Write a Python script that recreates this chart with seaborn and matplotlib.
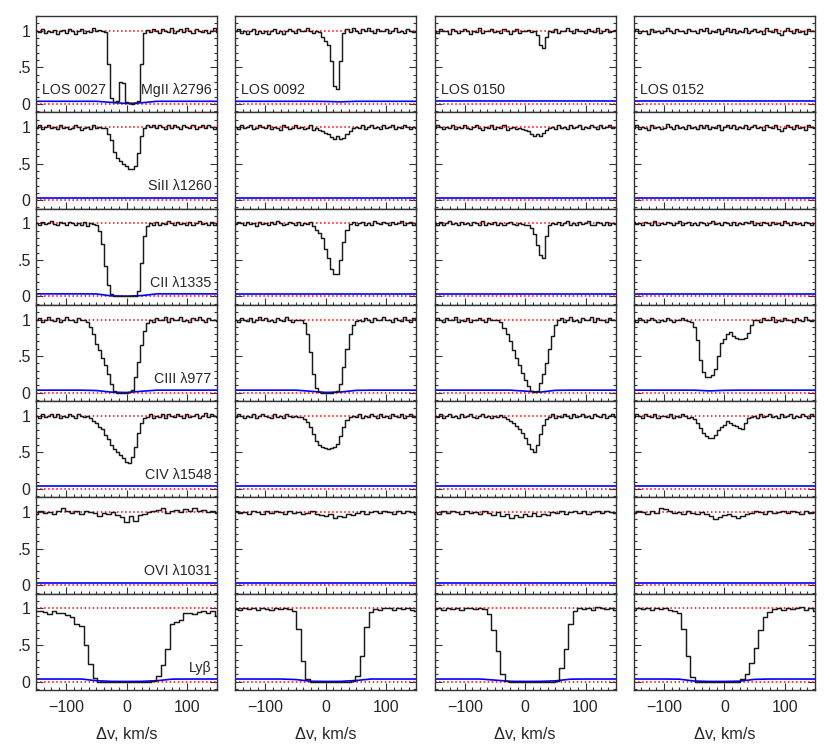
import numpy as np
import matplotlib
matplotlib.use("Agg")
import matplotlib.pyplot as plt
import seaborn as sns
from matplotlib.ticker import FixedLocator, MultipleLocator

# labels
los_labels = ["LOS 0027", "LOS 0092", "LOS 0150", "LOS 0152"]
ion_labels = ["MgII λ2796", "SiII λ1260", "CII λ1335", "CIII λ977",
              "CIV λ1548", "OVI λ1031", "Lyβ"]

# velocity grids, km/s
vel_fine = list(range(-150, 151, 5))                  # MgII .. CIV
vel_coarse = [-150 + 7.5 * k for k in range(41)]      # OVI, Ly-beta
vel_err = list(range(-150, 151, 25))                  # error curves

# normalised flux, in percent
mgii_0027 = [100, 98, 102, 97, 100, 98, 101, 96, 99, 101,
             97, 102, 99, 96, 100, 102, 97, 100, 98, 103,
             99, 101, 100, 98, 55, 8, 2, 4, 30, 28,
             3, 1, 0, 1, 4, 55, 97, 101, 98, 102,
             100, 97, 102, 100, 98, 103, 97, 100, 102, 98,
             103, 100, 97, 102, 100, 98, 101, 97, 100, 103,
             98]
mgii_0092 = [99, 102, 97, 100, 96, 99, 102, 95, 99, 97,
             100, 96, 99, 102, 97, 100, 95, 99, 102, 100,
             97, 102, 99, 100, 103, 99, 97, 100, 98, 92,
             86, 80, 58, 24, 20, 58, 97, 102, 98, 103,
             100, 97, 102, 99, 103, 100, 97, 102, 99, 100,
             102, 97, 100, 103, 98, 100, 97, 102, 100, 98,
             100]
mgii_0150 = [100, 97, 102, 99, 100, 96, 102, 99, 97, 100,
             102, 99, 96, 100, 98, 103, 97, 100, 99, 102,
             98, 100, 97, 102, 99, 96, 100, 102, 97, 100,
             99, 101, 98, 100, 94, 80, 76, 92, 100, 98,
             102, 97, 100, 99, 103, 100, 97, 102, 99, 100,
             97, 102, 100, 98, 103, 97, 100, 102, 98, 100,
             101]
mgii_0152 = [99, 102, 97, 100, 99, 96, 102, 98, 100, 97,
             99, 104, 100, 97, 102, 99, 100, 97, 102, 99,
             100, 97, 102, 99, 103, 97, 100, 98, 102, 96,
             100, 103, 98, 102, 97, 100, 98, 103, 97, 100,
             102, 98, 100, 96, 103, 100, 98, 102, 97, 94,
             99, 103, 100, 97, 102, 98, 100, 96, 102, 100,
             99]

sii_0027 = [99, 102, 97, 100, 103, 99, 100, 97, 102, 99,
            100, 97, 99, 102, 100, 96, 99, 100, 97, 102,
            99, 100, 99, 98, 90, 82, 66, 57, 54, 50,
            46, 43, 42, 46, 65, 88, 99, 102, 100, 103,
            98, 102, 100, 97, 102, 99, 103, 100, 97, 102,
            100, 98, 102, 97, 100, 103, 98, 102, 100, 97,
            100]
sii_0092 = [100, 97, 102, 99, 100, 103, 97, 99, 102, 100,
            98, 102, 97, 100, 99, 96, 102, 100, 97, 99,
            102, 99, 100, 97, 99, 102, 96, 99, 96, 95,
            92, 90, 86, 84, 88, 83, 85, 90, 95, 98,
            100, 98, 102, 97, 100, 103, 99, 100, 97, 102,
            99, 100, 103, 97, 100, 98, 102, 100, 97, 100,
            99]
sii_0150 = [99, 102, 100, 97, 100, 98, 103, 97, 100, 99,
            102, 99, 97, 100, 102, 98, 96, 100, 99, 102,
            97, 100, 99, 102, 96, 99, 100, 97, 99, 97,
            96, 94, 90, 88, 90, 87, 92, 96, 99, 100,
            97, 102, 99, 100, 97, 103, 99, 100, 102, 97,
            100, 98, 102, 100, 97, 102, 99, 100, 103, 98,
            100]
sii_0152 = [99, 102, 97, 100, 99, 96, 102, 98, 100, 97,
            99, 104, 100, 97, 102, 99, 100, 97, 102, 99,
            100, 97, 102, 99, 103, 97, 100, 98, 102, 96,
            100, 103, 98, 102, 97, 100, 98, 103, 97, 100,
            102, 98, 100, 96, 103, 100, 98, 102, 97, 94,
            99, 103, 100, 97, 102, 98, 100, 96, 102, 100,
            99]

cii_0027 = [100, 97, 102, 99, 100, 103, 99, 97, 102, 100,
            98, 102, 100, 97, 100, 98, 102, 96, 100, 99,
            97, 90, 72, 42, 16, 3, 1, 0, 0, 0,
            0, 0, 0, 1, 8, 45, 82, 96, 100, 98,
            102, 97, 100, 99, 103, 100, 97, 102, 99, 100,
            97, 102, 98, 100, 103, 99, 100, 97, 102, 98,
            100]
cii_0092 = [99, 102, 100, 97, 102, 99, 100, 96, 102, 99,
            100, 97, 102, 99, 103, 100, 97, 99, 102, 100,
            98, 102, 97, 100, 99, 102, 96, 91, 87, 80,
            65, 52, 38, 30, 30, 50, 75, 91, 99, 102,
            97, 100, 102, 98, 100, 97, 103, 100, 99, 102,
            100, 97, 102, 99, 100, 103, 97, 100, 102, 98,
            100]
cii_0150 = [100, 98, 102, 97, 100, 103, 99, 100, 97, 102,
            99, 100, 97, 102, 100, 98, 103, 97, 100, 99,
            102, 98, 100, 97, 100, 102, 99, 97, 100, 99,
            98, 97, 93, 85, 70, 56, 52, 82, 98, 100,
            99, 102, 97, 100, 103, 98, 100, 97, 102, 99,
            100, 103, 98, 97, 102, 100, 98, 102, 97, 100,
            99]
cii_0152 = [102, 99, 100, 97, 102, 100, 98, 103, 97, 100,
            99, 102, 100, 97, 100, 103, 98, 100, 102, 97,
            100, 98, 102, 100, 97, 100, 103, 99, 100, 97,
            102, 100, 98, 102, 97, 100, 99, 102, 100, 103,
            97, 100, 98, 102, 100, 97, 102, 99, 100, 98,
            103, 100, 97, 102, 99, 100, 97, 102, 100, 98,
            100]

ciii_0027 = [99, 102, 97, 100, 104, 100, 98, 102, 97, 100,
             103, 99, 100, 97, 102, 99, 100, 96, 90, 80,
             66, 58, 48, 38, 26, 12, 2, 0, 0, 0,
             0, 1, 4, 22, 42, 65, 84, 95, 100, 97,
             102, 99, 100, 103, 97, 102, 99, 100, 104, 98,
             100, 97, 102, 99, 103, 100, 97, 102, 99, 100,
             98]
ciii_0092 = [100, 97, 102, 100, 98, 102, 97, 100, 103, 99,
             102, 98, 100, 97, 102, 100, 98, 103, 100, 97,
             100, 99, 99, 95, 80, 55, 25, 6, 1, 0,
             0, 0, 0, 1, 3, 12, 35, 60, 80, 92,
             98, 100, 98, 102, 100, 97, 102, 99, 100, 103,
             99, 100, 97, 102, 100, 98, 103, 100, 97, 102,
             100]
ciii_0150 = [99, 102, 100, 97, 102, 99, 100, 103, 97, 100,
             98, 102, 97, 100, 99, 102, 100, 97, 102, 99,
             100, 99, 96, 89, 80, 70, 58, 48, 38, 27,
             18, 9, 2, 1, 3, 13, 26, 40, 60, 78,
             92, 99, 102, 97, 100, 103, 98, 100, 97, 102,
             99, 100, 103, 97, 102, 99, 100, 96, 102, 100,
             99]
ciii_0152 = [100, 97, 102, 99, 96, 100, 102, 99, 97, 100,
             98, 102, 100, 97, 100, 99, 102, 100, 98, 97,
             90, 72, 45, 28, 22, 22, 24, 33, 50, 68,
             73, 80, 83, 78, 75, 74, 74, 75, 82, 92,
             99, 100, 97, 102, 99, 100, 103, 97, 100, 98,
             102, 99, 100, 96, 102, 100, 98, 104, 100, 98,
             100]

civ_0027 = [100, 97, 102, 99, 100, 103, 98, 102, 97, 100,
            98, 102, 100, 97, 102, 100, 98, 100, 97, 93,
            90, 85, 82, 74, 68, 60, 55, 50, 46, 42,
            37, 36, 44, 58, 76, 90, 97, 99, 102, 97,
            100, 98, 102, 97, 103, 100, 98, 102, 100, 97,
            102, 99, 100, 103, 97, 100, 104, 98, 102, 100,
            99]
civ_0092 = [99, 102, 100, 97, 100, 98, 102, 97, 100, 103,
            100, 98, 97, 102, 99, 100, 97, 102, 100, 99,
            100, 99, 99, 96, 92, 85, 75, 66, 60, 58,
            56, 55, 56, 57, 62, 72, 85, 94, 98, 100,
            98, 102, 97, 100, 99, 103, 100, 97, 102, 99,
            100, 97, 102, 100, 98, 102, 97, 100, 103, 99,
            100]
civ_0150 = [100, 98, 102, 97, 100, 102, 99, 100, 97, 102,
            99, 100, 103, 98, 97, 100, 102, 99, 100, 97,
            100, 99, 101, 99, 96, 93, 90, 86, 82, 76,
            70, 62, 55, 50, 60, 75, 88, 96, 99, 102,
            97, 100, 99, 102, 100, 97, 102, 99, 100, 103,
            98, 100, 97, 102, 100, 98, 103, 97, 100, 102,
            99]
civ_0152 = [99, 102, 100, 97, 102, 100, 98, 102, 97, 100,
            100, 98, 102, 97, 100, 99, 102, 100, 97, 99,
            96, 90, 83, 76, 72, 70, 69, 74, 80, 85,
            88, 93, 90, 88, 86, 83, 82, 90, 97, 99,
            100, 97, 102, 99, 100, 103, 98, 100, 97, 102,
            99, 100, 102, 97, 100, 98, 103, 100, 97, 102,
            100]

ovi_0027 = [98, 101, 99, 100, 98, 101, 105, 102, 99, 101,
            97, 102, 100, 99, 94, 99, 97, 100, 96, 93,
            87, 95, 88, 96, 97, 100, 101, 103, 106, 99,
            101, 103, 100, 104, 102, 105, 101, 103, 100, 102,
            99]
ovi_0092 = [101, 99, 100, 97, 102, 100, 98, 101, 99, 102,
            100, 98, 101, 99, 100, 97, 99, 101, 98, 96,
            94, 97, 92, 95, 93, 97, 96, 99, 101, 98,
            100, 102, 99, 101, 100, 98, 102, 99, 101, 100,
            98]
ovi_0150 = [100, 98, 101, 99, 102, 100, 97, 101, 99, 100,
            98, 101, 99, 96, 100, 94, 97, 92, 96, 93,
            97, 95, 99, 94, 98, 96, 100, 99, 101, 98,
            100, 102, 99, 101, 98, 100, 101, 99, 102, 100,
            99]
ovi_0152 = [99, 101, 100, 98, 102, 99, 106, 104, 101, 99,
            100, 98, 101, 99, 97, 100, 98, 95, 91, 93,
            96, 98, 94, 92, 95, 97, 99, 101, 100, 98,
            101, 99, 100, 102, 99, 101, 100, 98, 101, 99,
            100]

lyb_0027 = [96, 97, 95, 92, 96, 93, 94, 91, 88, 79,
            76, 50, 24, 5, 0, 0, 0, 0, 0, 0,
            0, 0, 0, 0, 0, 0, 1, 7, 22, 45,
            78, 82, 84, 94, 94, 92, 95, 96, 93, 97,
            90]
lyb_0092 = [99, 98, 100, 99, 101, 98, 100, 99, 98, 100,
            99, 101, 99, 96, 72, 28, 4, 0, 0, 0,
            0, 0, 0, 0, 0, 0, 1, 8, 35, 75,
            95, 99, 98, 101, 100, 98, 101, 99, 100, 98,
            97]
lyb_0150 = [99, 100, 98, 101, 99, 100, 98, 101, 100, 99,
            100, 99, 92, 70, 42, 10, 1, 0, 0, 0,
            0, 0, 0, 0, 0, 0, 0, 1, 18, 45,
            78, 97, 100, 99, 101, 98, 102, 100, 99, 101,
            98]
lyb_0152 = [98, 100, 99, 101, 98, 100, 99, 100, 98, 96,
            93, 72, 35, 6, 0, 0, 0, 0, 0, 0,
            0, 0, 0, 0, 3, 10, 25, 46, 70, 88,
            95, 99, 100, 98, 101, 99, 100, 102, 98, 100,
            96]

# flux errors, in units of 0.001
err_flat = [35, 35, 35, 35, 35, 35, 35, 35, 35, 35, 35, 35, 35]
err_mgii_0027 = [35, 35, 35, 35, 35, 20, 5, 15, 35, 35, 35, 35, 35]
err_mgii_0092 = [35, 35, 35, 35, 35, 35, 33, 28, 35, 35, 35, 35, 35]
err_cii_0027 = [35, 35, 35, 35, 34, 8, 3, 12, 35, 35, 35, 35, 35]
err_ciii_0027 = [35, 35, 35, 35, 30, 8, 3, 20, 35, 35, 35, 35, 35]
err_ciii_0092 = [35, 35, 35, 35, 35, 20, 4, 10, 32, 35, 35, 35, 35]
err_ciii_0150 = [35, 35, 35, 35, 35, 35, 22, 8, 33, 35, 35, 35, 35]
err_ciii_0152 = [35, 35, 35, 35, 35, 25, 33, 35, 35, 35, 35, 35, 35]
err_lyb_0027 = [35, 35, 35, 35, 12, 3, 2, 3, 12, 33, 35, 35, 35]
err_lyb_0092 = [35, 35, 35, 35, 28, 5, 2, 3, 15, 35, 35, 35, 35]
err_lyb_0150 = [35, 35, 35, 35, 20, 4, 2, 3, 10, 33, 35, 35, 35]
err_lyb_0152 = [35, 35, 35, 33, 8, 2, 2, 6, 30, 35, 35, 35, 35]

flux_rows = [
    [mgii_0027, mgii_0092, mgii_0150, mgii_0152],
    [sii_0027, sii_0092, sii_0150, sii_0152],
    [cii_0027, cii_0092, cii_0150, cii_0152],
    [ciii_0027, ciii_0092, ciii_0150, ciii_0152],
    [civ_0027, civ_0092, civ_0150, civ_0152],
    [ovi_0027, ovi_0092, ovi_0150, ovi_0152],
    [lyb_0027, lyb_0092, lyb_0150, lyb_0152],
]
err_rows = [
    [err_mgii_0027, err_mgii_0092, err_flat, err_flat],
    [err_flat, err_flat, err_flat, err_flat],
    [err_cii_0027, err_flat, err_flat, err_flat],
    [err_ciii_0027, err_ciii_0092, err_ciii_0150, err_ciii_0152],
    [err_flat, err_flat, err_flat, err_flat],
    [err_flat, err_flat, err_flat, err_flat],
    [err_lyb_0027, err_lyb_0092, err_lyb_0150, err_lyb_0152],
]
vel_rows = [vel_fine] * 5 + [vel_coarse] * 2

sns.set_style("ticks")
plt.rcParams["font.family"] = ["Liberation Sans", "DejaVu Sans"]

fig, axes = plt.subplots(7, 4, figsize=(8.3, 7.51), dpi=100)
fig.subplots_adjust(left=36 / 830, right=815 / 830, top=1 - 16 / 751,
                    bottom=1 - 690 / 751, hspace=0, wspace=0.1)

for i in range(7):
    for j in range(4):
        ax = axes[i, j]
        ax.axhline(1, color="red", ls=":", lw=1.1, zorder=1)
        ax.axhline(0, color="red", ls=":", lw=1.1, zorder=1)
        sns.lineplot(x=vel_err, y=np.array(err_rows[i][j]) / 1000, ax=ax,
                     color="blue", lw=1.2, estimator=None, zorder=2)
        sns.lineplot(x=vel_rows[i], y=np.array(flux_rows[i][j]) / 100, ax=ax,
                     color="#1a1a1a", lw=1.05, drawstyle="steps-mid",
                     estimator=None, zorder=3)
        ax.set_xlim(-150, 150)
        ax.set_ylim(-0.115, 1.2)
        ax.set_xlabel("")
        ax.set_ylabel("")
        ax.xaxis.set_major_locator(FixedLocator([-100, 0, 100]))
        ax.xaxis.set_minor_locator(MultipleLocator(12.5))
        ax.yaxis.set_major_locator(FixedLocator([0, 0.5, 1]))
        ax.yaxis.set_minor_locator(MultipleLocator(0.1))
        ax.tick_params(which="both", direction="in", top=False, right=True,
                       width=0.8, color="#333333")
        ax.tick_params(which="major", length=5, labelsize=11.5)
        ax.tick_params(which="minor", length=2.5)
        ax.tick_params(axis="x", pad=7)
        ax.tick_params(axis="y", pad=4)
        for sp in ax.spines.values():
            sp.set_linewidth(1.0)
            sp.set_color("#333333")
        if j == 0:
            ax.set_yticklabels(["0", ".5", "1"])
            ax.text(141, 0.19, ion_labels[i], ha="right", va="center",
                    fontsize=10.3)
        else:
            ax.set_yticklabels([])
        if i == 6:
            ax.set_xticklabels(["\u2212100", "0", "100"])
            ax.set_xlabel("\u0394v, km/s", fontsize=11.8, labelpad=9)
        else:
            ax.set_xticklabels([])
        if i == 0:
            ax.text(-140, 0.19, los_labels[j], ha="left", va="center",
                    fontsize=10.3)

plt.savefig("out.png", dpi=100)
